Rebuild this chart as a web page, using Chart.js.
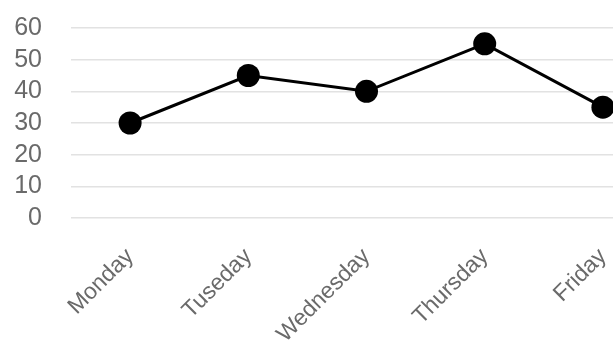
<!DOCTYPE html>
<html>
<head>
<meta charset="utf-8">
<script src="https://cdn.jsdelivr.net/npm/chart.js@4"></script>
<style>
  html, body { margin: 0; padding: 0; background: #fff; overflow: hidden; }
  .wrap { width: 672px; height: 342px; position: relative; }
</style>
</head>
<body>
<div class="wrap"><canvas id="chart"></canvas></div>
<script>
const days = ["Monday", "Tuseday", "Wednesday", "Thursday", "Friday"];
const values = [30, 45, 40, 55, 35];
const yMin = 0;
const yMax = 60;
const yStep = 10;

const ctx = document.getElementById("chart").getContext("2d");

new Chart(ctx, {
  type: "line",
  data: {
    labels: days,
    datasets: [
      {
        data: values,
        borderColor: "#000",
        backgroundColor: "#000",
        borderWidth: 3,
        pointRadius: 11.5,
        pointBackgroundColor: "#000",
        pointBorderWidth: 0,
        tension: 0,
        fill: false,
        clip: false,
      },
    ],
  },
  options: {
    responsive: true,
    maintainAspectRatio: false,
    animation: false,
    layout: { autoPadding: false, padding: { top: 28, right: 10, left: 0, bottom: 0 } },
    plugins: {
      legend: { display: false },
      tooltip: { enabled: false },
    },
    scales: {
      x: {
        offset: true,
        grid: { display: false },
        border: { display: false },
        ticks: {
          color: "#6a6a6a",
          font: { family: "Liberation Sans", size: 23 },
          minRotation: 45,
          maxRotation: 45,
          padding: 17,
        },
        afterFit: (scale) => {
          scale.height = 124;
        },
      },
      y: {
        min: yMin,
        max: yMax,
        border: { display: false },
        // empty tick marks push the labels left without adding top padding
        grid: {
          color: "#e2e2e2",
          lineWidth: 1.5,
          drawTicks: true,
          tickLength: 29,
          tickColor: "rgba(0,0,0,0)",
        },
        ticks: {
          stepSize: yStep,
          autoSkip: false,
          color: "#6a6a6a",
          font: { family: "Liberation Sans", size: 25 },
          padding: 0,
        },
        afterFit: (scale) => {
          scale.width = 71;
        },
      },
    },
  },
});
</script>
</body>
</html>
